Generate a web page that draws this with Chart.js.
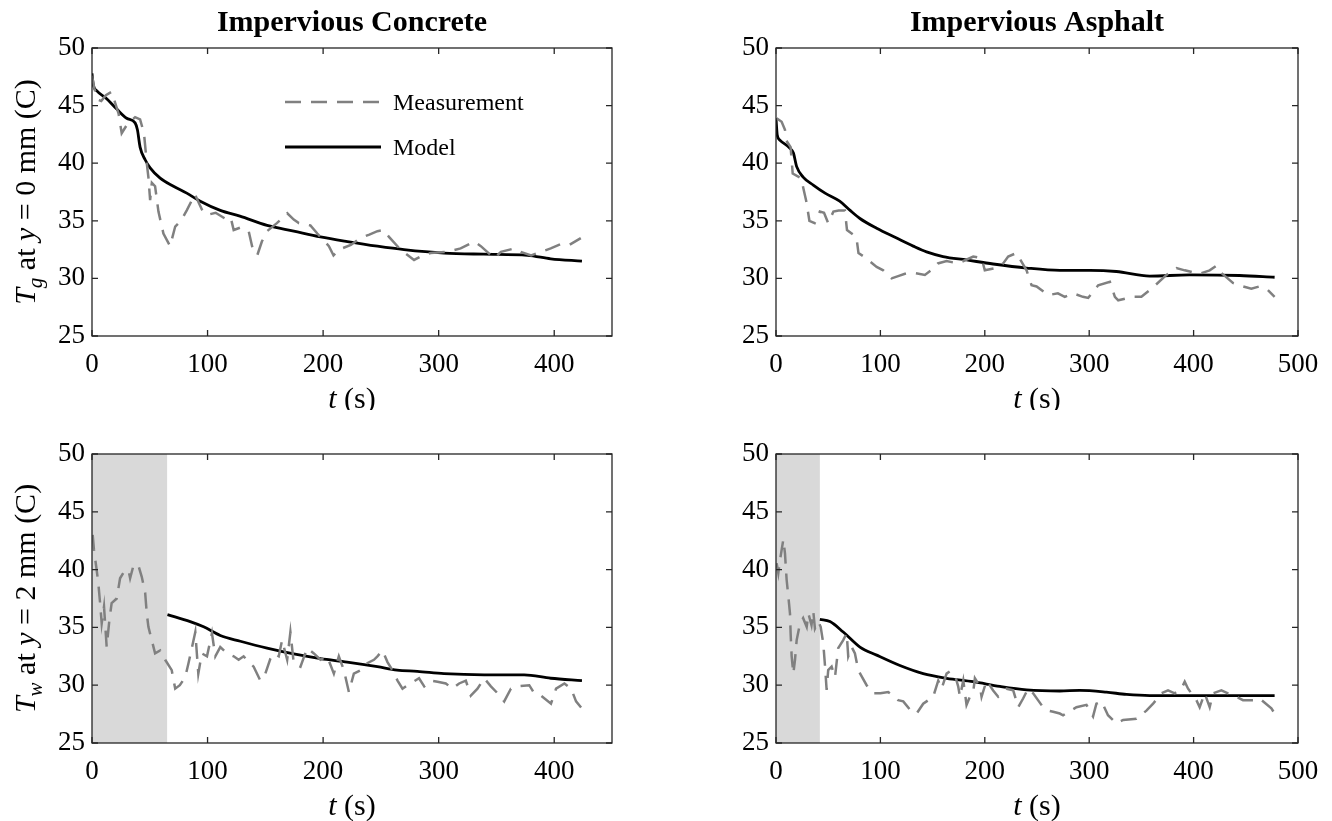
<!DOCTYPE html>
<html>
<head>
<meta charset="utf-8">
<script src="https://cdn.jsdelivr.net/npm/chart.js@4.4.1/dist/chart.umd.min.js"></script>
<style>
  body { margin: 0; background: #fff; }
  canvas { position: absolute; }
</style>
</head>
<body>
<canvas id="c1" width="666" height="410" style="left:0;top:0"></canvas>
<canvas id="c2" width="666" height="410" style="left:666px;top:0"></canvas>
<canvas id="c3" width="666" height="411" style="left:0;top:410px"></canvas>
<canvas id="c4" width="666" height="411" style="left:666px;top:410px"></canvas>
<script>
// panel titles and legend labels
const columnTitles = ["Impervious Concrete", "Impervious Asphalt"];
const seriesLabels = ["Measurement", "Model"];
const yTicks = [25, 30, 35, 40, 45, 50];
const xTicksConcrete = [0, 100, 200, 300, 400];
const xTicksAsphalt = [0, 100, 200, 300, 400, 500];
const xMaxConcrete = 450;
const xMaxAsphalt = 500;
// end of the shaded (no model) window in the bottom row, seconds
const shadeEnd = [65, 42];

// concrete, surface (y = 0 mm)
const tConcTopMeas = [0, 2, 5, 8, 12, 17, 23, 25.7, 30, 33, 37.3, 41.6, 45, 47.4, 48.8, 50.3, 51.8, 54.6, 57.5, 61.8, 67.6, 72, 77, 82, 89, 95, 99.5, 107, 115, 120, 122.6, 128, 135.6, 138.5, 143, 147, 151.5, 160, 169, 174.6, 179, 189, 195, 205, 209, 213.6, 224, 232, 240, 247, 252.6, 257, 267, 278.7, 284.5, 293, 307.6, 319, 330.7, 336.5, 348, 353.9, 365.4, 371, 380, 388.5, 397, 406, 413, 423];
const TConcTopMeas = [47.6, 46.5, 45.5, 45.4, 45.9, 46.2, 44.3, 42.6, 43.3, 43.6, 44.0, 43.8, 42.6, 40.0, 38.8, 36.8, 38.3, 38.0, 35.8, 33.9, 32.8, 34.5, 35.0, 35.9, 37.3, 36.0, 35.5, 35.7, 35.2, 35.3, 34.2, 34.4, 34.1, 32.8, 32.0, 33.2, 34.1, 34.8, 35.65, 35.1, 34.8, 34.6, 33.9, 32.8, 32.0, 32.5, 32.9, 33.5, 33.8, 34.1, 34.2, 33.6, 32.5, 31.6, 31.9, 32.2, 32.3, 32.6, 33.2, 32.8, 31.75, 32.3, 32.6, 32.3, 32.0, 32.3, 32.6, 33.0, 32.9, 33.5];
const tConcTopModel = [0, 1.1, 4, 12.7, 21.4, 30, 37.3, 39.3, 41.6, 46, 50.3, 59, 70.5, 82, 93.7, 111, 128, 151.5, 174.6, 197.7, 221, 247, 270, 304.7, 339, 377, 397, 424];
const TConcTopModel = [47.8, 46.8, 46.3, 45.6, 44.7, 43.9, 43.5, 42.9, 41.4, 40.3, 39.6, 38.7, 38.0, 37.4, 36.7, 35.9, 35.4, 34.6, 34.1, 33.6, 33.2, 32.8, 32.5, 32.2, 32.1, 32.0, 31.7, 31.5];

// asphalt, surface (y = 0 mm)
const tAsphTopMeas = [0.6, 5.4, 8.6, 9.6, 14, 16, 24, 29, 32, 37, 42, 46, 50, 55, 60, 66, 68, 77, 79, 84, 96.4, 102.7, 110.7, 117, 123.5, 131.4, 142.6, 150, 155, 163.4, 174.5, 188.9, 197, 200, 210, 217.6, 222.4, 230.4, 240, 244.8, 249.6, 260.7, 270, 276.6, 284.6, 294, 299, 308.6, 319.8, 324.6, 327.8, 342, 350, 359.6, 374, 383.6, 391.5, 405.8, 415.4, 421.8, 425, 437.7, 447.3, 455.3, 463, 471, 477.6];
const TAsphTopMeas = [43.9, 43.6, 42.9, 42.0, 41.4, 39.1, 38.7, 36.7, 35.0, 34.8, 35.8, 35.7, 34.8, 35.8, 35.9, 35.9, 34.2, 33.6, 32.2, 31.9, 31.0, 30.7, 30.0, 30.2, 30.4, 30.5, 30.3, 30.8, 31.3, 31.5, 31.3, 31.9, 31.75, 30.7, 30.9, 31.3, 31.9, 32.2, 30.7, 29.4, 29.3, 28.55, 28.7, 28.4, 28.7, 28.4, 28.3, 29.4, 29.7, 28.4, 28.1, 28.4, 28.4, 29.1, 30.3, 30.9, 30.7, 30.4, 30.7, 31.1, 30.6, 29.6, 29.3, 29.1, 29.3, 29.0, 28.4];
const tAsphTopModel = [0, 1.2, 3.8, 13.4, 16.6, 19.8, 26, 35.7, 47, 61, 71, 80.4, 96.4, 115.5, 131.4, 144.2, 160, 182.5, 208, 240, 272, 300.6, 326, 358, 396, 444, 477.6];
const TAsphTopModel = [43.9, 42.45, 42.0, 41.3, 40.9, 39.7, 38.8, 38.1, 37.4, 36.7, 35.9, 35.2, 34.35, 33.5, 32.8, 32.3, 31.9, 31.6, 31.25, 30.9, 30.7, 30.7, 30.6, 30.2, 30.3, 30.25, 30.1];

// concrete, y = 2 mm
const tConcBotMeas = [0.6, 1.7, 4, 5.5, 7, 8.4, 10.4, 12.7, 15, 17, 21.4, 24.3, 27, 31.5, 33, 36, 40, 43, 46, 47.4, 48.8, 51.7, 54.6, 59, 63.3, 69, 72, 76, 80.7, 83.5, 89.4, 92, 95, 99.5, 103.8, 106.7, 111, 116.8, 122.6, 126.9, 131.2, 135.6, 139.9, 145.7, 150, 154.4, 157.3, 161.6, 164.5, 168.9, 171.7, 174.6, 180.4, 186.2, 192, 197.7, 203.5, 209.3, 213.6, 218, 222.3, 226.6, 232.4, 238.2, 244, 247, 251.4, 255.7, 260, 264.4, 268.7, 273, 283, 287.5, 293.2, 299, 306.2, 311.9, 317.7, 323.5, 327.8, 333.6, 339.4, 345.2, 351, 356.7, 362.5, 368.3, 378.4, 382.7, 388.5, 397.2, 401.6, 408.8, 414.6, 418.9, 423.8];
const TConcBotMeas = [43.0, 41.7, 40.0, 38.8, 37.1, 35.35, 36.8, 33.3, 35.6, 37.1, 37.5, 39.25, 39.7, 40.0, 39.25, 40.4, 40.4, 39.4, 38.0, 36.2, 35.05, 33.9, 32.75, 33.0, 32.2, 31.3, 29.7, 30.0, 30.7, 31.9, 34.6, 31.0, 32.75, 32.5, 34.5, 32.5, 33.3, 32.75, 32.5, 32.2, 32.5, 32.0, 31.6, 30.4, 31.0, 32.3, 32.75, 32.5, 33.9, 32.2, 34.6, 31.9, 31.6, 33.2, 32.75, 32.2, 32.5, 31.0, 32.5, 31.3, 29.4, 31.0, 31.3, 31.9, 32.2, 32.5, 33.0, 32.0, 31.3, 30.4, 29.7, 30.0, 30.6, 29.9, 30.4, 30.3, 30.15, 29.7, 30.15, 30.4, 29.1, 29.7, 30.6, 29.9, 29.3, 28.6, 29.7, 29.9, 30.0, 29.3, 29.1, 28.4, 29.7, 30.15, 29.7, 28.6, 28.0];
const tConcBotModel = [65.3, 85, 96.6, 111, 128.4, 151.5, 174.6, 197.7, 220.8, 247, 264, 281.5, 304.6, 339.4, 374, 397, 424];
const TConcBotModel = [36.1, 35.5, 35.05, 34.3, 33.8, 33.2, 32.7, 32.3, 32.0, 31.6, 31.3, 31.2, 31.0, 30.9, 30.9, 30.6, 30.4];

// asphalt, y = 2 mm
const tAsphBotMeas = [0.6, 2.2, 3.8, 7, 8.6, 10.2, 11.8, 13.4, 14, 15, 16.6, 18.2, 19.8, 23, 26, 29.4, 31, 34, 35.7, 37.3, 40.5, 42.8, 45.3, 47, 48.5, 50, 53.3, 56.5, 59.6, 64.4, 67.7, 69.2, 72.5, 75.6, 78.8, 86.8, 93.1, 100, 107.5, 112.3, 117, 121.9, 129.9, 134.7, 141, 150.6, 155.4, 158.6, 163.4, 166.6, 171.3, 174.5, 176.2, 179.4, 182.5, 185.7, 188.9, 190.5, 195.3, 196.9, 201.7, 208, 212.8, 220.8, 227.2, 232, 236.7, 241.5, 246.3, 255, 260.7, 265.5, 271.8, 275, 287.8, 297.4, 303.7, 306.9, 311.8, 318, 326, 332.5, 345.3, 354.8, 361.2, 369.2, 375.5, 381.9, 388.3, 391.5, 394.7, 402.7, 405.8, 410.6, 415.4, 418.6, 426.6, 433, 441, 447.3, 456.9, 463.3, 474.5, 477.6];
const TAsphBotMeas = [40.55, 39.7, 40.8, 42.6, 41.4, 39.1, 37.7, 36.2, 34.5, 32.5, 31.0, 32.2, 33.9, 35.35, 35.8, 35.05, 36.2, 35.2, 36.4, 34.9, 35.5, 35.05, 33.6, 31.6, 29.6, 31.3, 31.6, 30.7, 33.2, 33.9, 34.5, 32.5, 33.3, 32.75, 31.3, 30.0, 29.3, 29.3, 29.4, 29.1, 28.7, 28.6, 27.7, 27.55, 28.4, 29.0, 30.4, 29.7, 31.0, 31.2, 30.9, 29.9, 29.0, 30.4, 28.3, 29.0, 29.4, 30.6, 29.9, 29.0, 30.4, 29.55, 29.0, 29.7, 29.55, 28.1, 28.85, 29.7, 29.3, 28.2, 27.8, 27.7, 27.55, 27.4, 28.1, 28.3, 27.3, 28.4, 28.6, 27.4, 26.7, 27.0, 27.1, 27.8, 28.4, 29.3, 29.55, 29.3, 29.7, 30.3, 29.7, 28.7, 28.1, 29.3, 28.1, 29.3, 29.55, 29.3, 29.0, 28.7, 28.7, 28.85, 28.0, 27.55];
const tAsphBotModel = [42, 51.7, 64.4, 80.4, 96.4, 118.7, 141, 163.4, 188.9, 214.4, 240, 271.8, 291, 316.5, 335.7, 358, 396, 444, 477.6];
const TAsphBotModel = [35.7, 35.5, 34.6, 33.3, 32.6, 31.7, 31.0, 30.6, 30.3, 29.9, 29.6, 29.5, 29.55, 29.4, 29.2, 29.1, 29.1, 29.1, 29.1];

const serif = "Liberation Serif";
const axisColor = "#262626";
Chart.defaults.font.family = serif;

const toPoints = (ts, vals) => ts.map((t, i) => ({ x: t, y: vals[i] }));

// draws text made of pieces, some italic / subscript, centred on x = 0 at baseline 0
function drawMath(ctx, parts, size) {
  const fontOf = (p) => (p.it ? "italic " : "") + Math.round(p.sub ? size * 0.7 : size) + "px '" + serif + "'";
  let total = 0;
  parts.forEach((p) => { ctx.font = fontOf(p); total += ctx.measureText(p.s).width; });
  let x = -total / 2;
  ctx.textBaseline = "alphabetic";
  ctx.textAlign = "left";
  parts.forEach((p) => {
    ctx.font = fontOf(p);
    ctx.fillText(p.s, x, p.sub ? size * 0.22 : 0);
    x += ctx.measureText(p.s).width;
  });
}

const framePlugin = {
  id: "frame",
  beforeDatasetsDraw(chart, args, opts) {
    if (opts.shadeTo == null) return;
    const { ctx, chartArea: a, scales } = chart;
    ctx.save();
    ctx.fillStyle = "#d9d9d9";
    ctx.fillRect(a.left, a.top, scales.x.getPixelForValue(opts.shadeTo) - a.left, a.bottom - a.top);
    ctx.restore();
  },
  afterDraw(chart, args, opts) {
    const { ctx, chartArea: a, scales } = chart;
    ctx.save();
    // box with inward ticks on all four sides
    ctx.strokeStyle = axisColor;
    ctx.lineWidth = 1.3;
    ctx.strokeRect(a.left, a.top, a.right - a.left, a.bottom - a.top);
    ctx.beginPath();
    scales.x.ticks.forEach((t) => {
      const px = scales.x.getPixelForValue(t.value);
      ctx.moveTo(px, a.bottom); ctx.lineTo(px, a.bottom - 6);
      ctx.moveTo(px, a.top); ctx.lineTo(px, a.top + 6);
    });
    scales.y.ticks.forEach((t) => {
      const py = scales.y.getPixelForValue(t.value);
      ctx.moveTo(a.left, py); ctx.lineTo(a.left + 6, py);
      ctx.moveTo(a.right, py); ctx.lineTo(a.right - 6, py);
    });
    ctx.stroke();

    ctx.fillStyle = "#000";
    const cx = (a.left + a.right) / 2;
    if (opts.title) {
      ctx.font = "bold 30px '" + serif + "'";
      ctx.textAlign = "center";
      ctx.textBaseline = "alphabetic";
      ctx.fillText(opts.title, cx, a.top - 17);
    }
    // x label: t (s)
    ctx.save();
    ctx.translate(cx, a.bottom + 72);
    drawMath(ctx, [{ s: "t", it: true }, { s: " (s)" }], 30);
    ctx.restore();
    if (opts.yLabel) {
      ctx.save();
      ctx.translate(35, (a.top + a.bottom) / 2);
      ctx.rotate(-Math.PI / 2);
      drawMath(ctx, opts.yLabel, 30);
      ctx.restore();
    }
    if (opts.legend) {
      const lx = scales.x.getPixelForValue(0) + 193;
      chart.data.datasets.forEach((ds, i) => {
        const ly = a.top + 54 + i * 45;
        ctx.strokeStyle = ds.borderColor;
        ctx.lineWidth = ds.borderWidth;
        ctx.setLineDash(ds.borderDash || []);
        ctx.beginPath();
        ctx.moveTo(lx, ly); ctx.lineTo(lx + 96, ly);
        ctx.stroke();
        ctx.setLineDash([]);
        ctx.font = "24px '" + serif + "'";
        ctx.textAlign = "left";
        ctx.textBaseline = "middle";
        ctx.fillText(ds.label, lx + 108, ly + 2);
      });
    }
    ctx.restore();
  },
};

function makePanel(id, cfg) {
  new Chart(document.getElementById(id), {
    type: "line",
    data: {
      datasets: [
        {
          label: seriesLabels[0],
          data: toPoints(cfg.tMeas, cfg.TMeas),
          borderColor: "#808080",
          borderWidth: 2.5,
          borderDash: [16, 10],
          pointRadius: 0,
          tension: 0,
        },
        {
          label: seriesLabels[1],
          data: toPoints(cfg.tModel, cfg.TModel),
          borderColor: "#000000",
          borderWidth: 2.8,
          pointRadius: 0,
          cubicInterpolationMode: "monotone",
        },
      ],
    },
    options: {
      responsive: false,
      animation: false,
      devicePixelRatio: 1,
      layout: { autoPadding: false, padding: cfg.padding },
      scales: {
        x: {
          type: "linear",
          min: 0,
          max: cfg.xMax,
          afterBuildTicks: (s) => { s.ticks = cfg.xTicks.map((v) => ({ value: v })); },
          afterFit: (s) => { s.height = 74; },
          grid: { display: false, drawTicks: false },
          border: { display: false },
          ticks: { padding: 13, maxRotation: 0, autoSkip: false, color: "#000", font: { family: serif, size: 27 } },
        },
        y: {
          min: yTicks[0],
          max: yTicks[yTicks.length - 1],
          afterBuildTicks: (s) => { s.ticks = yTicks.map((v) => ({ value: v })); },
          afterFit: (s) => { s.width = cfg.yWidth; },
          grid: { display: false, drawTicks: false },
          border: { display: false },
          ticks: { padding: 7, color: "#000", font: { family: serif, size: 27 } },
        },
      },
      plugins: {
        legend: { display: false },
        tooltip: { enabled: false },
        frame: { title: cfg.title, yLabel: cfg.yLabel, shadeTo: cfg.shadeTo, legend: cfg.legend },
      },
    },
    plugins: [framePlugin],
  });
}

const yLabelTop = [{ s: "T", it: true }, { s: "g", it: true, sub: true }, { s: " at " }, { s: "y", it: true }, { s: " = 0 mm (C)" }];
const yLabelBot = [{ s: "T", it: true }, { s: "w", it: true, sub: true }, { s: " at " }, { s: "y", it: true }, { s: " = 2 mm (C)" }];

makePanel("c1", {
  tMeas: tConcTopMeas, TMeas: TConcTopMeas, tModel: tConcTopModel, TModel: TConcTopModel,
  xMax: xMaxConcrete, xTicks: xTicksConcrete, yWidth: 92, padding: { left: 0, top: 48, right: 54, bottom: 0 },
  title: columnTitles[0], yLabel: yLabelTop, legend: true,
});
makePanel("c2", {
  tMeas: tAsphTopMeas, TMeas: TAsphTopMeas, tModel: tAsphTopModel, TModel: TAsphTopModel,
  xMax: xMaxAsphalt, xTicks: xTicksAsphalt, yWidth: 110, padding: { left: 0, top: 48, right: 34, bottom: 0 },
  title: columnTitles[1],
});
makePanel("c3", {
  tMeas: tConcBotMeas, TMeas: TConcBotMeas, tModel: tConcBotModel, TModel: TConcBotModel,
  xMax: xMaxConcrete, xTicks: xTicksConcrete, yWidth: 92, padding: { left: 0, top: 44, right: 54, bottom: 4 },
  yLabel: yLabelBot, shadeTo: shadeEnd[0],
});
makePanel("c4", {
  tMeas: tAsphBotMeas, TMeas: TAsphBotMeas, tModel: tAsphBotModel, TModel: TAsphBotModel,
  xMax: xMaxAsphalt, xTicks: xTicksAsphalt, yWidth: 110, padding: { left: 0, top: 44, right: 34, bottom: 4 },
  shadeTo: shadeEnd[1],
});
</script>
</body>
</html>
